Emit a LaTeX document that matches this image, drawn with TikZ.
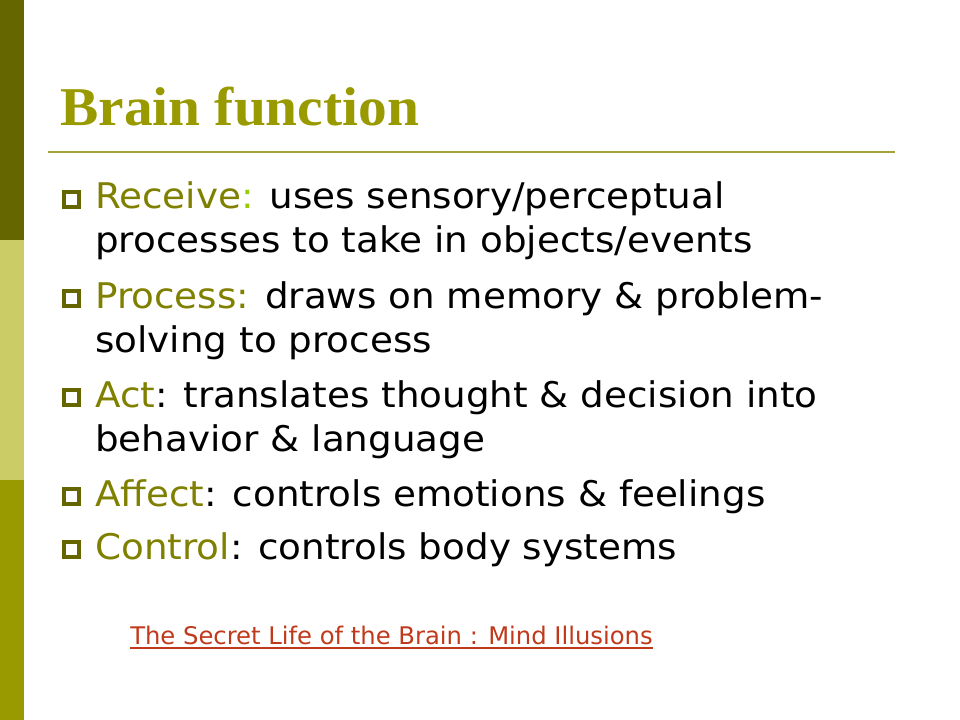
\documentclass[tikz,border=0pt]{standalone}
\usepackage{fontspec}
\setmainfont[FakeStretch=1.055]{DejaVu Sans}
\newfontfamily\titlefont[FakeStretch=1.05]{Liberation Serif}
\newfontfamily\linkfont{DejaVu Sans}
\definecolor{barA}{HTML}{666600}
\definecolor{barB}{HTML}{CCCC66}
\definecolor{barC}{HTML}{999900}
\definecolor{titlec}{HTML}{999900}
\definecolor{rulec}{HTML}{A3A33A}
\definecolor{bulc}{HTML}{666600}
\definecolor{keyc}{HTML}{808000}
\definecolor{colc}{HTML}{99CC00}
\definecolor{linkc}{HTML}{C0391B}
\begin{document}
\begin{tikzpicture}[x=0.75pt,y=-0.75pt,
  txt/.style={anchor=base west, inner sep=0, font=\fontsize{26.5}{30}\selectfont},
  titlestyle/.style={anchor=base west, inner sep=0, text=titlec, font=\titlefont\bfseries\fontsize{41}{44}\selectfont},
  bul/.style={draw=bulc, line width=2.6pt, minimum size=11.3pt, inner sep=0, rectangle},
  linkstyle/.style={anchor=base west, inner sep=0, text=linkc, font=\linkfont\fontsize{18.2}{20}\selectfont}]
\useasboundingbox (0,0) rectangle (960,720);
\fill[white] (0,0) rectangle (960,720);
\fill[barA] (0,0) rectangle (24,240);
\fill[barB] (0,240) rectangle (24,480);
\fill[barC] (0,480) rectangle (24,720);
\node[titlestyle] (title) at (60,126) {Brain function};
\coordinate (r1) at (48,152);
\coordinate (r2) at (895,152);
\draw[rulec, line width=1.5pt] (r1) -- (r2);
% bullets
\node[bul] (b1) at (71.3,199.5) {};
\node[bul] (b2) at (71.3,298.5) {};
\node[bul] (b3) at (71.3,397.5) {};
\node[bul] (b4) at (71.3,496.5) {};
\node[bul] (b5) at (71.3,549.5) {};
% text
\node[txt] (t1a) at (95,209) {\textcolor{keyc}{Receive}\textcolor{colc}{:} uses sensory/perceptual};
\node[txt] (t1b) at (95,253) {processes to take in objects/events};
\node[txt] (t2a) at (95,308) {\textcolor{keyc}{Process:} draws on memory \& problem-};
\node[txt] (t2b) at (95,352) {solving to process};
\node[txt] (t3a) at (95,407) {\textcolor{keyc}{Act}: translates thought \& decision into};
\node[txt] (t3b) at (95,451) {behavior \& language};
\node[txt] (t4) at (95,506) {\textcolor{keyc}{Affect}: controls emotions \& feelings};
\node[txt] (t5) at (95,559) {\textcolor{keyc}{Control}: controls body systems};
\node[linkstyle] (link) at (130,644.5) {The Secret Life of the Brain : Mind Illusions};
\draw[linkc, line width=1.4pt] ([yshift=-2.4pt]link.base west) -- ([yshift=-2.4pt]link.base east);
\end{tikzpicture}
\end{document}
